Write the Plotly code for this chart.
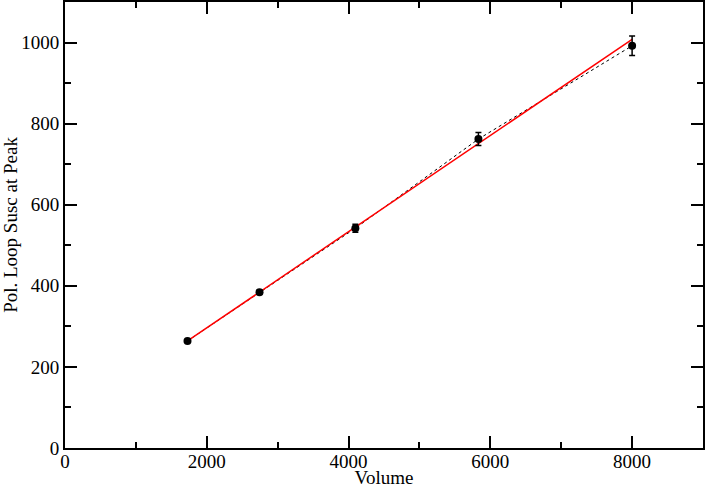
import plotly.graph_objects as go

# Data
volume = [1728, 2744, 4096, 5832, 8000]
susc_peak = [264, 384, 542, 762, 992]
susc_err = [3, 5, 10, 16, 24]

# linear fit line (end points)
fit_x = [1728, 8000]
fit_y = [264, 1008]

fig = go.Figure()

fig.add_trace(go.Scatter(
    x = volume, y = susc_peak,
    mode = 'lines',
    line = dict(color = 'black', width = 1, dash = 'dot'),
    hoverinfo = 'skip'))

fig.add_trace(go.Scatter(
    x = fit_x, y = fit_y,
    mode = 'lines',
    line = dict(color = 'red', width = 1.5)))

fig.add_trace(go.Scatter(
    x = volume, y = susc_peak,
    mode = 'markers',
    marker = dict(color = 'black', size = 8),
    error_y = dict(type = 'data', array = susc_err, color = 'black', thickness = 1.5, width = 3)))

axis_style = dict(
    showgrid = False, zeroline = False, automargin = False,
    showline = True, linecolor = 'black', linewidth = 2, mirror = 'allticks',
    ticks = 'inside', ticklen = 12, tickwidth = 1.5, tickcolor = 'black',
    tickfont = dict(family = 'Liberation Serif', size = 19, color = 'black'),
    title_font = dict(family = 'Liberation Serif', size = 19, color = 'black'))

fig.update_xaxes(
    range = [0, 9000], dtick = 2000, title_text = 'Volume', title_standoff = 0,
    ticklabelstandoff = -5,
    minor = dict(dtick = 1000, ticks = 'inside', ticklen = 6, tickwidth = 1.5, tickcolor = 'black'),
    **axis_style)
fig.update_yaxes(
    range = [0, 1100], dtick = 200, title_text = 'Pol. Loop Susc at Peak', title_standoff = 6,
    minor = dict(dtick = 100, ticks = 'inside', ticklen = 6, tickwidth = 1.5, tickcolor = 'black'),
    **axis_style)

fig.update_layout(
    width = 706, height = 488,
    showlegend = False,
    plot_bgcolor = 'white', paper_bgcolor = 'white',
    margin = dict(l = 65, r = 3, t = 2, b = 40))

# page without the default body margin so the 706x488 figure fits the window
fig.write_html("out.html", config = {'displayModeBar': False},
               post_script = "document.body.style.margin = '0'; document.body.style.overflow = 'hidden';")
